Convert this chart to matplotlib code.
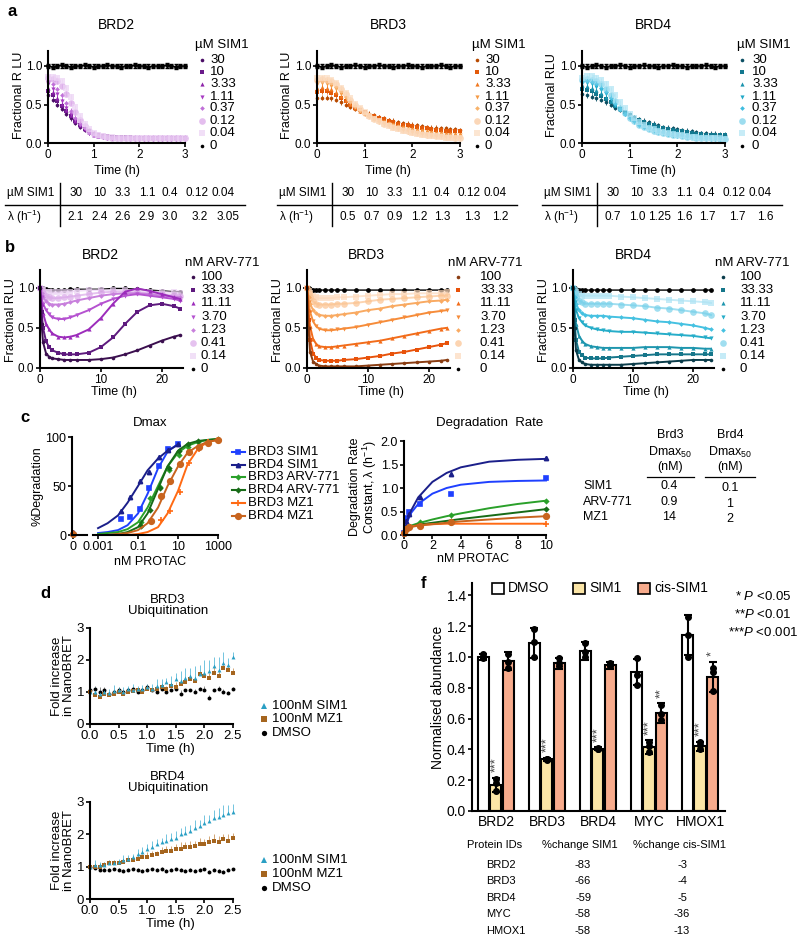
import numpy as np
import matplotlib
matplotlib.use("Agg")
import matplotlib.pyplot as plt
from matplotlib.lines import Line2D
from matplotlib.patches import Rectangle

plt.rcParams['font.family'] = ['Liberation Sans', 'DejaVu Sans']
plt.rcParams['mathtext.fontset'] = 'custom'
plt.rcParams['mathtext.rm'] = 'Liberation Sans'
plt.rcParams['mathtext.it'] = 'Liberation Sans:italic'
plt.rcParams['font.size'] = 9

# ---------------- panel a data ----------------
T_A = np.linspace(0, 3, 31)
A_DOSES = ["30", "10", "3.33", "1.11", "0.37", "0.12", "0.04", "0"]
A_BRD2 = [
    [0.62, 0.56, 0.50, 0.44, 0.38, 0.32, 0.26, 0.21, 0.17, 0.14, 0.12, 0.10, 0.09, 0.085, 0.08, 0.08, 0.075, 0.075, 0.07, 0.07, 0.07, 0.07, 0.07, 0.07, 0.07, 0.07, 0.07, 0.07, 0.07, 0.07, 0.07],
    [0.68, 0.62, 0.55, 0.48, 0.41, 0.35, 0.28, 0.23, 0.18, 0.15, 0.12, 0.10, 0.09, 0.085, 0.08, 0.08, 0.075, 0.075, 0.075, 0.07, 0.07, 0.07, 0.07, 0.07, 0.07, 0.07, 0.07, 0.07, 0.07, 0.07, 0.07],
    [0.72, 0.66, 0.59, 0.51, 0.43, 0.36, 0.29, 0.23, 0.18, 0.14, 0.11, 0.095, 0.085, 0.08, 0.075, 0.075, 0.07, 0.07, 0.07, 0.07, 0.065, 0.065, 0.065, 0.065, 0.065, 0.065, 0.065, 0.065, 0.065, 0.065, 0.065],
    [0.76, 0.70, 0.63, 0.55, 0.46, 0.38, 0.30, 0.23, 0.18, 0.14, 0.11, 0.09, 0.08, 0.075, 0.07, 0.07, 0.065, 0.065, 0.065, 0.065, 0.06, 0.06, 0.06, 0.06, 0.06, 0.06, 0.06, 0.06, 0.06, 0.06, 0.06],
    [0.80, 0.76, 0.70, 0.62, 0.52, 0.42, 0.33, 0.25, 0.19, 0.14, 0.11, 0.09, 0.08, 0.07, 0.07, 0.065, 0.065, 0.065, 0.06, 0.06, 0.06, 0.06, 0.06, 0.06, 0.06, 0.06, 0.06, 0.06, 0.06, 0.06, 0.06],
    [0.84, 0.83, 0.80, 0.74, 0.64, 0.52, 0.40, 0.30, 0.22, 0.16, 0.12, 0.10, 0.085, 0.075, 0.07, 0.07, 0.07, 0.065, 0.065, 0.065, 0.065, 0.065, 0.065, 0.065, 0.065, 0.065, 0.065, 0.065, 0.065, 0.065, 0.065],
    [0.86, 0.86, 0.84, 0.80, 0.72, 0.60, 0.47, 0.35, 0.25, 0.18, 0.13, 0.10, 0.09, 0.08, 0.075, 0.07, 0.07, 0.07, 0.07, 0.07, 0.07, 0.07, 0.07, 0.07, 0.07, 0.07, 0.07, 0.07, 0.07, 0.07, 0.07],
]
A_BRD3 = [
    [0.58, 0.59, 0.59, 0.58, 0.56, 0.53, 0.50, 0.47, 0.44, 0.42, 0.40, 0.38, 0.36, 0.34, 0.32, 0.30, 0.29, 0.27, 0.26, 0.25, 0.24, 0.23, 0.22, 0.21, 0.20, 0.20, 0.19, 0.19, 0.18, 0.18, 0.17],
    [0.66, 0.67, 0.67, 0.65, 0.62, 0.58, 0.54, 0.50, 0.46, 0.43, 0.40, 0.37, 0.35, 0.33, 0.31, 0.29, 0.27, 0.25, 0.24, 0.23, 0.22, 0.21, 0.20, 0.19, 0.18, 0.17, 0.17, 0.16, 0.16, 0.15, 0.15],
    [0.72, 0.73, 0.72, 0.70, 0.66, 0.61, 0.56, 0.51, 0.46, 0.42, 0.39, 0.36, 0.33, 0.31, 0.29, 0.27, 0.25, 0.23, 0.22, 0.20, 0.19, 0.18, 0.17, 0.16, 0.15, 0.14, 0.14, 0.13, 0.13, 0.12, 0.12],
    [0.77, 0.78, 0.77, 0.74, 0.70, 0.64, 0.58, 0.52, 0.47, 0.42, 0.38, 0.35, 0.32, 0.29, 0.27, 0.25, 0.23, 0.21, 0.19, 0.18, 0.17, 0.16, 0.15, 0.14, 0.13, 0.12, 0.12, 0.11, 0.11, 0.10, 0.10],
    [0.80, 0.81, 0.80, 0.78, 0.73, 0.67, 0.60, 0.54, 0.48, 0.43, 0.39, 0.35, 0.32, 0.29, 0.26, 0.24, 0.22, 0.20, 0.18, 0.17, 0.15, 0.14, 0.13, 0.12, 0.11, 0.10, 0.10, 0.09, 0.09, 0.08, 0.08],
    [0.82, 0.83, 0.82, 0.80, 0.76, 0.70, 0.63, 0.56, 0.50, 0.44, 0.39, 0.35, 0.31, 0.28, 0.25, 0.23, 0.21, 0.19, 0.17, 0.15, 0.14, 0.13, 0.12, 0.11, 0.10, 0.09, 0.09, 0.08, 0.08, 0.07, 0.07],
    [0.84, 0.85, 0.84, 0.82, 0.78, 0.72, 0.65, 0.58, 0.51, 0.45, 0.40, 0.35, 0.31, 0.28, 0.25, 0.22, 0.20, 0.18, 0.16, 0.15, 0.13, 0.12, 0.11, 0.10, 0.09, 0.09, 0.08, 0.07, 0.07, 0.06, 0.06],
]
A_BRD4 = [
    [0.64, 0.62, 0.60, 0.58, 0.56, 0.53, 0.50, 0.46, 0.43, 0.40, 0.37, 0.34, 0.31, 0.29, 0.27, 0.25, 0.23, 0.21, 0.20, 0.19, 0.18, 0.17, 0.16, 0.15, 0.14, 0.13, 0.13, 0.12, 0.12, 0.11, 0.11],
    [0.70, 0.69, 0.67, 0.64, 0.61, 0.57, 0.53, 0.48, 0.44, 0.40, 0.36, 0.33, 0.30, 0.27, 0.25, 0.23, 0.21, 0.19, 0.18, 0.17, 0.16, 0.15, 0.14, 0.13, 0.12, 0.12, 0.11, 0.11, 0.10, 0.10, 0.10],
    [0.75, 0.74, 0.72, 0.69, 0.65, 0.60, 0.55, 0.49, 0.44, 0.39, 0.35, 0.31, 0.28, 0.25, 0.23, 0.21, 0.19, 0.17, 0.16, 0.15, 0.14, 0.13, 0.12, 0.11, 0.10, 0.10, 0.09, 0.09, 0.08, 0.08, 0.08],
    [0.78, 0.78, 0.76, 0.73, 0.69, 0.63, 0.57, 0.50, 0.44, 0.38, 0.33, 0.29, 0.26, 0.23, 0.21, 0.19, 0.17, 0.15, 0.14, 0.13, 0.12, 0.11, 0.10, 0.09, 0.09, 0.08, 0.08, 0.07, 0.07, 0.07, 0.06],
    [0.80, 0.80, 0.79, 0.76, 0.72, 0.66, 0.59, 0.51, 0.44, 0.38, 0.32, 0.28, 0.24, 0.21, 0.19, 0.17, 0.15, 0.14, 0.12, 0.11, 0.10, 0.10, 0.09, 0.08, 0.08, 0.07, 0.07, 0.06, 0.06, 0.06, 0.05],
    [0.82, 0.83, 0.82, 0.80, 0.76, 0.70, 0.62, 0.54, 0.46, 0.39, 0.33, 0.28, 0.24, 0.21, 0.18, 0.16, 0.14, 0.13, 0.12, 0.11, 0.10, 0.09, 0.08, 0.08, 0.07, 0.07, 0.06, 0.06, 0.06, 0.05, 0.05],
    [0.85, 0.87, 0.87, 0.85, 0.82, 0.77, 0.70, 0.62, 0.53, 0.45, 0.38, 0.32, 0.27, 0.23, 0.20, 0.18, 0.16, 0.14, 0.13, 0.12, 0.11, 0.10, 0.09, 0.08, 0.08, 0.07, 0.07, 0.06, 0.06, 0.06, 0.05],
]
A_DMSO = [1.0, 0.99, 1.0, 1.01, 1.0, 0.99, 1.0, 1.0, 1.01, 1.0, 0.99, 1.0, 1.0, 1.01, 1.0, 1.0,
          0.99, 1.0, 1.0, 1.01, 1.0, 1.0, 0.99, 1.0, 1.0, 1.0, 1.01, 1.0, 0.99, 1.0, 1.0]
ERR_A = 0.03
TAB_DOSES = ["30", "10", "3.3", "1.1", "0.4", "0.12", "0.04"]
LAMBDA_BRD2 = ["2.1", "2.4", "2.6", "2.9", "3.0", "3.2", "3.05"]
LAMBDA_BRD3 = ["0.5", "0.7", "0.9", "1.2", "1.3", "1.3", "1.2"]
LAMBDA_BRD4 = ["0.7", "1.0", "1.25", "1.6", "1.7", "1.7", "1.6"]

# ---------------- panel b data ----------------
T_B = [0, 0.25, 0.5, 1, 1.5, 2, 3, 4, 5, 6, 8, 10, 12, 14, 16, 18, 20, 22, 23]
B_DOSES = ["100", "33.33", "11.11", "3.70", "1.23", "0.41", "0.14", "0"]
B_BRD2 = [
    [1.0, 0.55, 0.32, 0.18, 0.14, 0.12, 0.11, 0.10, 0.10, 0.10, 0.10, 0.11, 0.13, 0.17, 0.22, 0.28, 0.34, 0.39, 0.41],
    [1.0, 0.70, 0.50, 0.33, 0.26, 0.22, 0.19, 0.17, 0.17, 0.17, 0.19, 0.26, 0.38, 0.55, 0.70, 0.78, 0.80, 0.77, 0.74],
    [1.0, 0.80, 0.68, 0.55, 0.48, 0.43, 0.39, 0.38, 0.39, 0.41, 0.48, 0.62, 0.80, 0.95, 0.99, 0.96, 0.92, 0.88, 0.86],
    [1.0, 0.88, 0.80, 0.72, 0.67, 0.63, 0.61, 0.61, 0.63, 0.66, 0.72, 0.80, 0.86, 0.90, 0.92, 0.90, 0.88, 0.86, 0.84],
    [1.0, 0.93, 0.88, 0.83, 0.80, 0.79, 0.79, 0.80, 0.82, 0.84, 0.87, 0.90, 0.92, 0.93, 0.93, 0.92, 0.90, 0.89, 0.88],
    [1.0, 0.96, 0.93, 0.90, 0.88, 0.87, 0.87, 0.88, 0.89, 0.90, 0.92, 0.94, 0.95, 0.95, 0.94, 0.93, 0.92, 0.91, 0.90],
    [1.0, 0.98, 0.97, 0.95, 0.94, 0.94, 0.94, 0.95, 0.95, 0.96, 0.97, 0.97, 0.97, 0.97, 0.96, 0.95, 0.95, 0.94, 0.93],
    [1.0, 1.0, 0.99, 0.98, 0.97, 0.97, 0.97, 0.97, 0.98, 0.98, 0.98, 0.98, 0.99, 0.99, 0.98, 0.97, 0.96, 0.95, 0.95],
]
B_BRD3 = [
    [1.0, 0.50, 0.20, 0.08, 0.05, 0.03, 0.02, 0.02, 0.02, 0.02, 0.02, 0.03, 0.04, 0.05, 0.06, 0.07, 0.08, 0.09, 0.10],
    [1.0, 0.60, 0.35, 0.18, 0.13, 0.10, 0.09, 0.09, 0.09, 0.10, 0.11, 0.13, 0.15, 0.18, 0.20, 0.23, 0.26, 0.29, 0.31],
    [1.0, 0.72, 0.52, 0.36, 0.30, 0.27, 0.26, 0.26, 0.27, 0.28, 0.30, 0.32, 0.34, 0.37, 0.40, 0.43, 0.46, 0.49, 0.50],
    [1.0, 0.82, 0.70, 0.58, 0.52, 0.49, 0.47, 0.47, 0.48, 0.49, 0.51, 0.54, 0.57, 0.60, 0.63, 0.66, 0.69, 0.71, 0.72],
    [1.0, 0.88, 0.80, 0.72, 0.68, 0.66, 0.65, 0.65, 0.66, 0.67, 0.69, 0.72, 0.74, 0.77, 0.79, 0.81, 0.83, 0.84, 0.85],
    [1.0, 0.93, 0.88, 0.83, 0.80, 0.79, 0.79, 0.79, 0.80, 0.80, 0.81, 0.83, 0.85, 0.86, 0.87, 0.88, 0.89, 0.90, 0.90],
    [1.0, 0.96, 0.93, 0.90, 0.88, 0.87, 0.87, 0.87, 0.88, 0.88, 0.89, 0.90, 0.91, 0.92, 0.92, 0.93, 0.93, 0.93, 0.94],
    [1.0, 1.0, 0.98, 0.97, 0.97, 0.97, 0.97, 0.97, 0.97, 0.97, 0.97, 0.97, 0.97, 0.97, 0.97, 0.97, 0.97, 0.97, 0.97],
]
B_BRD4 = [
    [1.0, 0.50, 0.22, 0.10, 0.07, 0.05, 0.04, 0.04, 0.04, 0.04, 0.04, 0.05, 0.06, 0.07, 0.08, 0.09, 0.10, 0.10, 0.10],
    [1.0, 0.60, 0.35, 0.20, 0.16, 0.13, 0.12, 0.12, 0.12, 0.13, 0.14, 0.15, 0.16, 0.17, 0.17, 0.17, 0.17, 0.17, 0.17],
    [1.0, 0.72, 0.55, 0.40, 0.34, 0.30, 0.27, 0.26, 0.25, 0.25, 0.25, 0.25, 0.26, 0.26, 0.26, 0.25, 0.25, 0.24, 0.24],
    [1.0, 0.82, 0.72, 0.62, 0.57, 0.53, 0.50, 0.48, 0.47, 0.46, 0.45, 0.45, 0.44, 0.43, 0.42, 0.41, 0.40, 0.38, 0.37],
    [1.0, 0.88, 0.80, 0.72, 0.68, 0.66, 0.65, 0.65, 0.65, 0.64, 0.63, 0.62, 0.60, 0.58, 0.57, 0.55, 0.53, 0.50, 0.48],
    [1.0, 0.93, 0.88, 0.84, 0.82, 0.80, 0.80, 0.80, 0.80, 0.80, 0.79, 0.78, 0.77, 0.75, 0.74, 0.72, 0.70, 0.68, 0.66],
    [1.0, 0.97, 0.94, 0.92, 0.90, 0.90, 0.90, 0.90, 0.90, 0.90, 0.89, 0.88, 0.87, 0.86, 0.85, 0.84, 0.83, 0.82, 0.81],
    [1.0, 1.0, 0.98, 0.97, 0.97, 0.97, 0.97, 0.97, 0.97, 0.97, 0.97, 0.97, 0.97, 0.97, 0.97, 0.97, 0.97, 0.97, 0.97],
]

# ---------------- panel c data ----------------
C_LABELS = ["BRD3 SIM1", "BRD4 SIM1", "BRD3 ARV-771", "BRD4 ARV-771", "BRD3 MZ1", "BRD4 MZ1"]
DMAX_CURVE_X = [0.001, 0.003, 0.01, 0.03, 0.1, 0.3, 1, 3, 10, 30, 100, 300, 1000]
DMAX_CURVES = [
    [2, 3, 5, 10, 22, 42, 68, 85, 93],
    [7, 12, 20, 33, 50, 66, 78, 86, 92],
    [1, 2, 3, 6, 13, 28, 50, 70, 84, 91, 95, 97, 98],
    [0, 0, 1, 3, 8, 22, 47, 70, 86, 93, 96, 97, 98],
    [0, 0, 0, 0, 1, 3, 8, 22, 45, 72, 88, 95, 97],
    [0, 0, 1, 2, 5, 12, 28, 50, 70, 84, 91, 95, 97],
]
DMAX_PTS_X = [
    [0.014, 0.041, 0.12, 0.37, 1.1, 3.3, 10],
    [0.014, 0.041, 0.12, 0.37, 1.1, 3.3, 10],
    [0.14, 0.41, 1.2, 3.7, 11, 33, 100, 1000],
    [0.14, 0.41, 1.2, 3.7, 11, 33, 100, 1000],
    [1.4, 4.1, 12, 37, 111, 333, 1000],
    [0.46, 1.4, 4.1, 12, 37, 111, 333, 1000],
]
DMAX_PTS_Y = [
    [16, 18, 27, 48, 70, 88, 93],
    [25, 39, 55, 64, 80, 87, 93],
    [13, 38, 49, 66, 82, 90, 95, 97],
    [9, 26, 48, 68, 86, 93, 96, 98],
    [15, 24, 44, 73, 88, 95, 97],
    [14, 40, 55, 72, 85, 90, 94, 97],
]
DMAX_ZERO = [1, 3, 0, 0, 2, 1]

RATE_X = [0, 0.12, 0.37, 1.11, 3.33, 10]
RATE_PTS = [
    [0.05, 0.36, 0.50, 0.66, 0.88, 1.22],
    [0.05, 0.30, 0.45, 0.80, 1.30, 1.64],
    [0.05, 0.15, 0.20, 0.28, 0.42, 0.73],
    [0.05, 0.15, 0.18, 0.22, 0.30, 0.55],
    [0.05, 0.12, 0.15, 0.20, 0.25, 0.24],
    [0.05, 0.12, 0.17, 0.20, 0.27, 0.40],
]
RATE_CURVE_X = [0, 0.1, 0.25, 0.5, 1, 2, 3, 4, 6, 8, 10]
RATE_CURVES = [
    [0.0, 0.15, 0.30, 0.47, 0.66, 0.88, 1.00, 1.07, 1.13, 1.15, 1.16],
    [0.0, 0.15, 0.32, 0.52, 0.80, 1.13, 1.32, 1.44, 1.56, 1.60, 1.62],
    [0.0, 0.12, 0.17, 0.20, 0.25, 0.33, 0.40, 0.46, 0.57, 0.66, 0.73],
    [0.0, 0.10, 0.15, 0.18, 0.22, 0.26, 0.30, 0.34, 0.41, 0.48, 0.55],
    [0.0, 0.10, 0.15, 0.18, 0.21, 0.23, 0.24, 0.24, 0.24, 0.24, 0.24],
    [0.0, 0.10, 0.14, 0.17, 0.20, 0.23, 0.26, 0.29, 0.33, 0.37, 0.40],
]
TABLE_C_ROWS = ["SIM1", "ARV-771", "MZ1"]
TABLE_C_BRD3 = ["0.4", "0.9", "14"]
TABLE_C_BRD4 = ["0.1", "1", "2"]

# ---------------- panel d data ----------------
T_D = np.linspace(0, 2.5, 31)
D_LABELS = ["100nM SIM1", "100nM MZ1", "DMSO"]
D_BRD3 = [
    [1.0, 1.0, 0.95, 1.0, 0.98, 1.02, 1.05, 1.0, 1.08, 1.05, 1.1, 1.08, 1.15, 1.1, 1.2, 1.22,
     1.3, 1.25, 1.4, 1.35, 1.45, 1.5, 1.45, 1.55, 1.6, 1.65, 1.8, 1.7, 1.9, 1.85, 2.1],
    [1.0, 0.9, 0.85, 0.95, 0.9, 0.95, 1.0, 0.95, 1.0, 1.02, 1.05, 1.0, 1.1, 1.05, 1.08, 1.15,
     1.1, 1.2, 1.15, 1.25, 1.3, 1.4, 1.35, 1.55, 1.5, 1.45, 1.6, 1.5, 1.75, 1.7, 1.6],
    [1.05, 1.1, 1.0, 1.05, 0.95, 1.0, 1.05, 1.0, 1.05, 1.1, 1.0, 1.05, 1.15, 1.05, 1.0, 1.1,
     1.0, 1.05, 1.1, 0.95, 1.05, 1.05, 1.0, 1.1, 1.05, 0.8, 1.05, 1.1, 1.0, 0.98, 1.1],
]
D_BRD3_ERR = [
    [0.1, 0.15, 0.1, 0.1, 0.1, 0.2, 0.1, 0.15, 0.1, 0.2, 0.1, 0.15, 0.1, 0.15, 0.2, 0.2,
     0.15, 0.25, 0.2, 0.3, 0.3, 0.25, 0.35, 0.3, 0.4, 0.35, 0.3, 0.4, 0.35, 0.2, 0.15],
    [0.1, 0.15, 0.1, 0.1, 0.1, 0.1, 0.1, 0.1, 0.1, 0.1, 0.1, 0.1, 0.1, 0.1, 0.1, 0.15,
     0.1, 0.15, 0.15, 0.15, 0.15, 0.15, 0.2, 0.15, 0.2, 0.15, 0.2, 0.15, 0.2, 0.15, 0.15],
    [0.1, 0.1, 0.15, 0.1, 0.05, 0.1, 0.1, 0.05, 0.1, 0.1, 0.05, 0.05, 0.1, 0.1, 0.05, 0.05,
     0.1, 0.05, 0.05, 0.1, 0.05, 0.05, 0.1, 0.05, 0.15, 0.1, 0.05, 0.1, 0.1, 0.05, 0.05],
]
D_BRD4 = [
    [1.0, 1.05, 1.05, 1.05, 1.1, 1.1, 1.15, 1.2, 1.25, 1.3, 1.4, 1.45, 1.55, 1.6, 1.7, 1.75,
     1.8, 1.85, 1.9, 2.0, 2.05, 2.1, 2.2, 2.25, 2.35, 2.4, 2.5, 2.55, 2.6, 2.65, 2.7],
    [1.0, 1.0, 1.0, 1.05, 1.1, 1.1, 1.1, 1.15, 1.2, 1.2, 1.25, 1.3, 1.3, 1.35, 1.4, 1.45,
     1.5, 1.5, 1.55, 1.55, 1.6, 1.6, 1.65, 1.7, 1.7, 1.75, 1.8, 1.75, 1.85, 1.8, 1.9],
    [1.0, 0.95, 0.9, 0.9, 0.9, 0.92, 0.9, 0.88, 0.9, 0.92, 0.9, 0.88, 0.9, 0.92, 0.9, 0.93,
     0.88, 0.9, 0.92, 0.9, 0.87, 0.9, 0.88, 0.9, 0.92, 0.85, 0.9, 0.88, 0.85, 0.9, 0.92],
]
D_BRD4_ERR = [
    [0.15, 0.15, 0.1, 0.1, 0.1, 0.1, 0.1, 0.15, 0.1, 0.1, 0.15, 0.15, 0.15, 0.2, 0.15, 0.15,
     0.2, 0.2, 0.2, 0.2, 0.2, 0.2, 0.25, 0.2, 0.25, 0.2, 0.25, 0.25, 0.3, 0.25, 0.25],
    [0.1, 0.1, 0.1, 0.1, 0.1, 0.1, 0.1, 0.1, 0.1, 0.1, 0.15, 0.1, 0.15, 0.15, 0.1, 0.15,
     0.15, 0.15, 0.15, 0.2, 0.15, 0.2, 0.15, 0.2, 0.15, 0.2, 0.2, 0.2, 0.15, 0.2, 0.15],
    [0.05] * 31,
]

# ---------------- panel f data ----------------
F_GROUPS = ["BRD2", "BRD3", "BRD4", "MYC", "HMOX1"]
F_TREAT = ["DMSO", "SIM1", "cis-SIM1"]
F_MEAN_DMSO = [1.0, 1.09, 1.04, 0.90, 1.14]
F_MEAN_SIM1 = [0.17, 0.335, 0.405, 0.415, 0.42]
F_MEAN_CIS = [0.975, 0.96, 0.945, 0.635, 0.87]
F_SD_DMSO = [0.02, 0.10, 0.06, 0.085, 0.13]
F_SD_SIM1 = [0.045, 0.01, 0.01, 0.045, 0.03]
F_SD_CIS = [0.06, 0.035, 0.025, 0.065, 0.10]
F_PTS_DMSO = [[0.99, 1.0, 1.02], [1.0, 1.1, 1.18], [1.0, 1.03, 1.09], [0.82, 0.88, 0.99], [1.0, 1.14, 1.26]]
F_PTS_SIM1 = [[0.13, 0.18, 0.21], [0.33, 0.335, 0.34], [0.40, 0.405, 0.41], [0.38, 0.42, 0.45], [0.40, 0.43, 0.445]]
F_PTS_CIS = [[0.93, 0.97, 1.02], [0.94, 0.96, 0.99], [0.94, 0.945, 0.96], [0.59, 0.63, 0.69], [0.78, 0.9, 0.93]]
F_STARS_SIM1 = ["***", "***", "***", "***", "***"]
F_STARS_CIS = ["", "", "", "**", "*"]
F_TAB_IDS = ["BRD2", "BRD3", "BRD4", "MYC", "HMOX1"]
F_TAB_SIM1 = ["-83", "-66", "-59", "-58", "-58"]
F_TAB_CIS = ["-3", "-4", "-5", "-36", "-13"]

# ---------------- styling ----------------
MARKERS = ['o', 's', '^', 'v', 'D', 'o', 's']
SIZES = [2.6, 2.6, 3.0, 3.0, 2.4, 4.8, 4.8]
ALPHAS = [1, 1, 1, 1, 1, 0.7, 0.7]
COL_BRD2 = ['#4a0d66', '#6a1b8a', '#8e24aa', '#a93cc4', '#c070d8', '#d9a3e8', '#ecd2f4']
COL_BRD3 = ['#b84a00', '#e35a0a', '#f07820', '#f59a45', '#f8b26a', '#fac79a', '#fcdcc0']
COL_BRD4 = ['#0b4f63', '#13788f', '#1a93ad', '#22a9c8', '#3fbde0', '#74cfe9', '#b0e4f4']
BCOL_BRD2 = ['#3b0f4f', '#5e1a7e', '#9c2cbb', '#b552d0', '#c880dc', '#dba9e9', '#ecd3f4']
BCOL_BRD3 = ['#8a3d12', '#e8520a', '#f26c1a', '#f68c3a', '#f9aa62', '#fbc390', '#fdd9bb']
BCOL_BRD4 = ['#0a3c4a', '#15768a', '#1e96ae', '#26adc9', '#45c1e1', '#78d1ea', '#ade3f4']
C_COLORS = ['#1f40ff', '#1b1f8a', '#2aa02a', '#176b17', '#ff6a13', '#c8641e']
C_MARKERS = ['s', '^', 'D', 'D', '+', 'o']
C_MS = [4, 4, 3, 3, 5, 5]
D_COLORS = ['#2a9fc4', '#a5651f', 'k']
D_ECOLORS = ['#72c4de', '#d3a675', '#8a8a8a']
D_MARKERS = ['^', 's', 'o']
F_COLORS = ['white', '#fbe5a6', '#f7ab8c']

W, H = 800, 941
fig = plt.figure(figsize=(W / 100, H / 100), dpi=100)


def add_ax(l, t, r, b):
    return fig.add_axes([l / W, 1 - b / H, (r - l) / W, (b - t) / H])


def txt(x, y, s, **kw):
    kw.setdefault('va', 'center')
    kw.setdefault('ha', 'left')
    return fig.text(x / W, 1 - y / H, s, **kw)


def fig_marker(x, y, **kw):
    fig.add_artist(Line2D([x / W], [1 - y / H], transform=fig.transFigure,
                          linestyle='none', **kw))


def fig_line(xs, ys, **kw):
    fig.add_artist(Line2D([v / W for v in xs], [1 - v / H for v in ys],
                          transform=fig.transFigure, **kw))


def style(ax, size=9):
    ax.spines['top'].set_visible(False)
    ax.spines['right'].set_visible(False)
    ax.spines['left'].set_linewidth(1.5)
    ax.spines['bottom'].set_linewidth(1.5)
    ax.tick_params(direction='out', length=3, width=1.2, labelsize=size, pad=1.2)
    ax.patch.set_alpha(0)


# panel labels
for lab, x, y in [("a", 12, 12), ("b", 10, 248), ("c", 25, 418), ("d", 45, 593), ("f", 423, 583)]:
    txt(x, y, lab, fontsize=12, fontweight='bold', ha='center')

# ---------------- panel a ----------------
a_specs = [
    ("BRD2", A_BRD2, COL_BRD2, "Fractional R LU", 48, 185, 117, 19, LAMBDA_BRD2, 0, 195, 202, 210),
    ("BRD3", A_BRD3, COL_BRD3, "Fractional R LU", 317, 460, 388, 287, LAMBDA_BRD3, 272, 472, 477, 485),
    ("BRD4", A_BRD4, COL_BRD4, "Fractional RLU", 582, 725, 653, 552, LAMBDA_BRD4, 537, 737, 742, 752),
]
A_LEG_Y = [60, 72, 84, 97, 108, 121, 133, 146]
A_TAB_X1 = [76, 100, 123, 147, 170, 197, 223]
A_TAB_X2 = [76, 100, 123, 147, 170, 200, 228]
for name, series, cols, ylab, l, r, tx, ylx, lam, dx, hx, mx, lx in a_specs:
    ax = add_ax(l, 50.6, r, 143)
    style(ax, 8.5)
    for ys, c, m, ms, al in zip(series, cols, MARKERS, SIZES, ALPHAS):
        ax.errorbar(T_A, ys, yerr=ERR_A, fmt=m, ms=ms, color=c, ecolor=c, alpha=al,
                    elinewidth=0.6, capsize=1, mew=0, clip_on=False)
    ax.errorbar(T_A, A_DMSO, yerr=ERR_A, fmt='o-', ms=2.4, color='k', lw=0.9,
                elinewidth=0.8, capsize=1.2, clip_on=False)
    ax.set_xlim(0, 3)
    ax.set_ylim(0, 1.2)
    ax.set_xticks([0, 1, 2, 3])
    ax.set_yticks([0, 0.5, 1.0])
    ax.set_yticklabels(['0.0', '0.5', '1.0'])
    txt((l + r) / 2, 25, name, ha='center', fontsize=10)
    txt(tx, 171, "Time (h)", ha='center', fontsize=9)
    txt(ylx, 95, ylab, ha='center', rotation=90, fontsize=9)
    # legend
    txt(hx, 45, "µM SIM1", fontsize=9.5)
    for y, lab, c, m, s, al in zip(A_LEG_Y, A_DOSES, cols + ['k'], MARKERS + ['o'],
                                   SIZES + [2.6], ALPHAS + [1]):
        fig_marker(mx, y, marker=m, color=c, markersize=s, mew=0, alpha=al)
        txt(lx, y, lab, fontsize=9.5)
    # table
    txt(7 + dx, 193, "µM SIM1", fontsize=8.5)
    txt(7 + dx, 217, r"λ (h$^{-1}$)", fontsize=8.5)
    fig_line([5 + dx, 245 + dx], [205, 205], color='k', lw=1)
    fig_line([60 + dx, 60 + dx], [183, 226], color='k', lw=1)
    for cx, v in zip(A_TAB_X1, TAB_DOSES):
        txt(cx + dx, 193, v, ha='center', fontsize=8.5)
    for cx, v in zip(A_TAB_X2, lam):
        txt(cx + dx, 217, v, ha='center', fontsize=8.5)

# ---------------- panel b ----------------
b_specs = [
    ("BRD2", B_BRD2, BCOL_BRD2, 40, 183, 100, 11, 114, 185, 193, 201),
    ("BRD3", B_BRD3, BCOL_BRD3, 307, 450, 366, 278, 381, 448, 458, 480),
    ("BRD4", B_BRD4, BCOL_BRD4, 573, 714, 633, 544, 646, 715, 723, 740),
]
B_LEG_Y = [277, 290, 303, 317, 330, 343, 356, 369]
for name, series, cols, l, r, tx, ylx, xlx, hx, mx, lx in b_specs:
    ax = add_ax(l, 270, r, 368)
    style(ax, 8.5)
    ax.plot(T_B, series[7], '-o', color='k', ms=2.4, lw=1.0, clip_on=False)
    for ys, c, m, ms, al in zip(series[:7][::-1], cols[::-1], MARKERS[::-1], SIZES[::-1], ALPHAS[::-1]):
        ax.plot(T_B, ys, '-', color=c, lw=1.4, alpha=al, clip_on=False)
        ax.plot(T_B, ys, m, color=c, ms=ms, mew=0, alpha=al, clip_on=False)
    ax.set_xlim(0, 23.5)
    ax.set_ylim(0, 1.22)
    ax.set_xticks([0, 10, 20])
    ax.set_yticks([0, 0.5, 1.0])
    ax.set_yticklabels(['0.0', '0.5', '1.0'])
    txt(tx, 255, name, ha='center', fontsize=10)
    txt(xlx, 392, "Time (h)", ha='center', fontsize=9)
    txt(ylx, 320, "Fractional RLU", ha='center', rotation=90, fontsize=9)
    txt(hx, 263, "nM ARV-771", fontsize=9.5)
    for y, lab, c, m, s, al in zip(B_LEG_Y, B_DOSES, cols + ['k'], MARKERS + ['o'],
                                   SIZES + [2.6], ALPHAS + [1]):
        fig_marker(mx, y, marker=m, color=c, markersize=s, mew=0, alpha=al)
        txt(lx, y, lab, fontsize=9.5)

# ---------------- panel c : Dmax ----------------
ax0 = add_ax(72, 437, 87, 535)
ax1 = add_ax(93, 437, 218, 535)
for ax in (ax0, ax1):
    style(ax, 9)
    ax.set_ylim(0, 100)
ax0.set_xlim(-0.05, 1)
ax0.set_xticks([0])
ax0.set_yticks([0, 50, 100])
for c, m, ms, z in zip(C_COLORS, C_MARKERS, C_MS, DMAX_ZERO):
    ax0.plot([0], [z], m, color=c, ms=ms - 1, clip_on=False)
ax1.set_xscale('log')
ax1.set_xlim(0.00056, 1000)
ax1.spines['left'].set_visible(False)
ax1.set_yticks([])
ax1.set_xticks([0.001, 0.1, 10, 1000])
ax1.set_xticklabels(['0.001', '0.1', '10', '1000'])
ax1.minorticks_off()
for cy, px, py, c, m, ms in zip(DMAX_CURVES, DMAX_PTS_X, DMAX_PTS_Y, C_COLORS, C_MARKERS, C_MS):
    ax1.plot(DMAX_CURVE_X[:len(cy)], cy, '-', color=c, lw=1.4, clip_on=False)
    ax1.plot(px, py, m, color=c, ms=ms - 1, mew=1.2, clip_on=False)
txt(150, 423, "Dmax", ha='center', fontsize=9.5)
txt(150, 562, "nM PROTAC", ha='center', fontsize=9)
txt(38, 486, "%Degradation", ha='center', rotation=90, fontsize=9)

C_LEG_Y = [452, 465, 477, 490, 503, 516]
for y, lab, c, m, ms in zip(C_LEG_Y, C_LABELS, C_COLORS, C_MARKERS, C_MS):
    fig_line([232, 245], [y, y], color=c, lw=1.5)
    fig_marker(238.5, y, marker=m, color=c, markersize=ms - 1, mew=1.2)
    txt(248, y, lab, fontsize=9.5)

# ---------------- panel c : Degradation rate ----------------
ax = add_ax(404, 441, 546, 535)
style(ax, 9)
for cy, py, c, m, ms in zip(RATE_CURVES, RATE_PTS, C_COLORS, C_MARKERS, C_MS):
    ax.plot(RATE_CURVE_X, cy, '-', color=c, lw=1.4, clip_on=False)
    ax.plot(RATE_X, py, m, color=c, ms=ms - 1, mew=1.2, clip_on=False)
ax.set_xlim(0, 10)
ax.set_ylim(0, 2)
ax.set_xticks([0, 2, 4, 6, 8, 10])
ax.set_yticks([0, 0.5, 1.0, 1.5, 2.0])
ax.set_yticklabels(['0.0', '0.5', '1.0', '1.5', '2.0'])
ax.tick_params(axis='x', pad=0.5)
txt(490, 423, "Degradation  Rate", ha='center', fontsize=9.5)
txt(473, 559, "nM PROTAC", ha='center', fontsize=9)
txt(364, 487, "Degradation Rate\nConstant, λ (h$^{-1}$)", ha='center', rotation=90,
    fontsize=9, linespacing=0.95)

# table c
for cx, hdr in [(670, "Brd3"), (730, "Brd4")]:
    txt(cx, 435, hdr, ha='center', fontsize=9)
    txt(cx, 452, "Dmax$_{50}$", ha='center', fontsize=9)
    txt(cx, 467, "(nM)", ha='center', fontsize=9)
fig_line([647, 694], [477, 477], color='k', lw=0.9)
fig_line([705, 755], [477, 477], color='k', lw=0.9)
for y, row, v3, v4 in zip([486, 502, 517], TABLE_C_ROWS, TABLE_C_BRD3, TABLE_C_BRD4):
    txt(583, y, row, fontsize=9)
    txt(669, y, v3, ha='center', fontsize=9)
    txt(730, y + 2, v4, ha='center', fontsize=9)

# ---------------- panel d ----------------
d_specs = [
    ("BRD3", D_BRD3, D_BRD3_ERR, 628, 724, 600, 611, 749, [706, 719, 733]),
    ("BRD4", D_BRD4, D_BRD4_ERR, 802, 899, 777, 788, 924, [860, 874, 888]),
]
for name, series, errs, top, bot, t1, t2, xly, legy in d_specs:
    ax = add_ax(90, top, 233, bot)
    style(ax, 9.5)
    for ys, er, c, ec, m in list(zip(series, errs, D_COLORS, D_ECOLORS, D_MARKERS))[::-1]:
        ax.errorbar(T_D, ys, yerr=[np.zeros(len(er)), er], fmt=m, ms=2.8, color=c, ecolor=ec,
                    elinewidth=0.7, capsize=1.5, capthick=0.7, mew=0, clip_on=False)
    ax.set_xlim(0, 2.5)
    ax.set_ylim(0, 3)
    ax.set_xticks([0, 0.5, 1.0, 1.5, 2.0, 2.5])
    ax.set_xticklabels(['0.0', '0.5', '1.0', '1.5', '2.0', '2.5'])
    ax.set_yticks([0, 1, 2, 3])
    txt(168, t1, name, ha='center', fontsize=9.5)
    txt(168, t2, "Ubiquitination", ha='center', fontsize=9.5)
    txt(170, xly, "Time (h)", ha='center', fontsize=9.5)
    txt(63, (top + bot) / 2, "Fold increase\nin NanoBRET", ha='center', rotation=90,
        fontsize=9.5, linespacing=0.95)
    for y, lab, c, m in zip(legy, D_LABELS, D_COLORS, D_MARKERS):
        fig_marker(264, y, marker=m, color=c, markersize=3.8, mew=0)
        txt(272, y, lab, fontsize=9.5)

# ---------------- panel f ----------------
ax = add_ax(472, 583, 725, 811)
style(ax, 10)
xg = np.arange(len(F_GROUPS))
bw, off = 0.216, 0.245
f_sets = [
    (F_MEAN_DMSO, F_SD_DMSO, F_PTS_DMSO, F_COLORS[0], -off),
    (F_MEAN_SIM1, F_SD_SIM1, F_PTS_SIM1, F_COLORS[1], 0),
    (F_MEAN_CIS, F_SD_CIS, F_PTS_CIS, F_COLORS[2], off),
]
for mean, sd, pts, col, o in f_sets:
    ax.bar(xg + o, mean, width=bw, color=col, edgecolor='k', linewidth=1.5)
    ax.errorbar(xg + o, mean, yerr=sd, fmt='none', ecolor='k', elinewidth=1.5,
                capsize=3, capthick=1.5)
    for xi, p in zip(xg + o, pts):
        ax.plot([xi] * len(p), p, 'o', color='k', ms=4)
for xi, m, s, st in zip(xg, F_MEAN_SIM1, F_SD_SIM1, F_STARS_SIM1):
    ax.text(xi, m + s + 0.035, st, rotation=90, ha='center', va='bottom', fontsize=9, color='#444444')
for xi, m, s, st in zip(xg + off, F_MEAN_CIS, F_SD_CIS, F_STARS_CIS):
    if st:
        ax.text(xi, m + s + 0.035, st, rotation=90, ha='center', va='bottom', fontsize=9, color='#444444')
ax.set_xlim(-0.47, 4.49)
ax.set_ylim(0, 1.48)
ax.set_xticks(xg)
ax.set_xticklabels(F_GROUPS)
ax.tick_params(axis='x', length=0, pad=3)
ax.set_yticks([0, 0.2, 0.4, 0.6, 0.8, 1.0, 1.2, 1.4])
ax.set_yticklabels(['0.0', '0.2', '0.4', '0.6', '0.8', '1.0', '1.2', '1.4'])
txt(438, 697, "Normalised abundance", ha='center', rotation=90, fontsize=10)

for bx, lab, col in zip([492, 573, 638], F_TREAT, F_COLORS):
    fig.add_artist(Rectangle((bx / W, 1 - 594 / H), 12 / W, 11 / H, transform=fig.transFigure,
                             facecolor=col, edgecolor='k', lw=1.2))
    txt(bx + 16, 588, lab, fontsize=10)
for y, s in zip([597, 615, 633], [r"* $P$ <0.05", r"**$P$ <0.01", r"***$P$ <0.001"]):
    txt(763, y, s, ha='center', fontsize=9.5)

txt(467, 845, "Protein IDs", fontsize=8)
txt(542, 845, "%change SIM1", fontsize=8)
txt(633, 845, "%change cis-SIM1", fontsize=8)
for y, pid, v1, v2 in zip([865, 881, 898, 914, 931], F_TAB_IDS, F_TAB_SIM1, F_TAB_CIS):
    txt(486, y, pid, fontsize=8)
    txt(583, y, v1, ha='center', fontsize=8)
    txt(682, y, v2, ha='center', fontsize=8)

fig.savefig("out.png", dpi=100)
